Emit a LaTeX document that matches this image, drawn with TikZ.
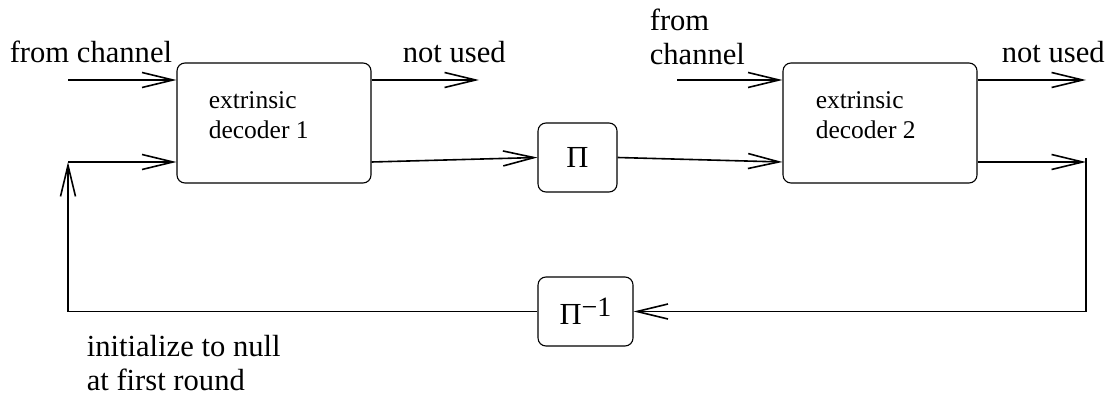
\documentclass[tikz,border=0pt]{standalone}
\usepackage{fontspec}
\setmainfont{Liberation Serif}
\usetikzlibrary{arrows.meta}

\begin{document}
\begin{tikzpicture}[x = 0.5pt, y = 0.5pt, line width = 0.8pt,
		>={Straight Barb[length=15.5pt, width=7.5pt]},
		block/.style = {draw, line width = 0.55pt, rounded corners = 4pt, inner sep = 0pt},
		lab/.style = {inner sep = 0pt, align = left, font = \fontsize{15.3}{17}\selectfont},
		dtext/.style = {inner sep = 0pt, align = left, font = \fontsize{12.75}{15}\selectfont}]
		\useasboundingbox (0, 0) rectangle (1111, 396);
		%%%%%%%%%%%%%
		\node[block, minimum width = 97pt, minimum height = 60pt] (dec1) at (274, 273) {};
		\node[block, minimum width = 97pt, minimum height = 60pt] (dec2) at (880, 273) {};
		\node[block, minimum width = 39.5pt, minimum height = 34.5pt, font = \fontsize{15.3}{17}\selectfont] (pi) at (577.5, 238.5) {Π};
		\node[block, minimum width = 47.5pt, minimum height = 34.5pt, font = \fontsize{15.3}{17}\selectfont] (pinv) at (585.5, 84.5) {Π\raisebox{4pt}{\fontsize{14}{14}\selectfont −1}};
		\node[dtext, anchor = north west] (dec1t) at (208, 305) {extrinsic\\decoder 1};
		\node[dtext, anchor = north west] (dec2t) at (815, 305) {extrinsic\\decoder 2};
		%%%%%%%%%%%%%
		\node[lab, anchor = base west] (ch1) at (9, 333) {from channel};
		\node[lab, anchor = base west] (nu1) at (402, 333) {not used};
		\node[lab, anchor = north west] (ch2) at (649, 388) {from\\channel};
		\node[lab, anchor = base west] (nu2) at (1001, 333) {not used};
		\node[lab, anchor = north west] (init) at (86, 62) {initialize to null\\at first round};
		%%%%%%%%%%%%%
		\coordinate (c1) at (68, 316); \coordinate (l1) at (68, 234);
		\coordinate (n1) at (479, 316); \coordinate (c2) at (677, 316);
		\coordinate (n2) at (1086, 316); \coordinate (r1) at (1086, 234);
		\coordinate (r0) at (1086, 238);
		%%%%%%%%%%%%%
		\draw[->] (c1) -- (c1 -| dec1.west); \draw[->] (l1) -- (l1 -| dec1.west);
		\draw[->] (dec1.east |- c1) -- (n1);
		\draw[->] (dec1.east |- l1) -- (pi.west);
		\draw[->] (pi.east) -- (dec2.west |- l1);
		\draw[->] (c2) -- (c2 -| dec2.west);
		\draw[->] (dec2.east |- c1) -- (n2);
		\draw[->] (dec2.east |- l1) -- (r1);
		\draw[->] (r0) |- (pinv.east);
		\draw[->] (pinv.west) -| (l1);
\end{tikzpicture}
\end{document}
